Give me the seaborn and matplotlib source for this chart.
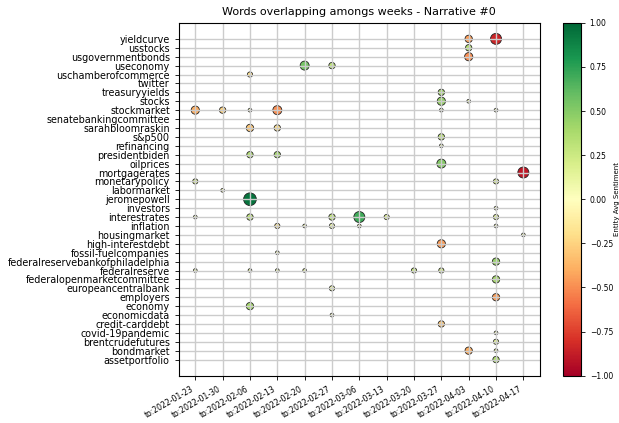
import pandas as pd
import seaborn as sns
import matplotlib.pyplot as plt
import numpy as np

weeks = ["to:2022-01-23", "to:2022-01-30", "to:2022-02-06", "to:2022-02-13",
         "to:2022-02-20", "to:2022-02-27", "to:2022-03-06", "to:2022-03-13",
         "to:2022-03-20", "to:2022-03-27", "to:2022-04-03", "to:2022-04-10",
         "to:2022-04-17"]

# top to bottom as shown on the chart
entities = ["yieldcurve", "usstocks", "usgovernmentbonds", "useconomy",
            "uschamberofcommerce", "twitter", "treasuryyields", "stocks",
            "stockmarket", "senatebankingcommittee", "sarahbloomraskin", "s&p500",
            "refinancing", "presidentbiden", "oilprices", "mortgagerates",
            "monetarypolicy", "labormarket", "jeromepowell", "investors",
            "interestrates", "inflation", "housingmarket", "high-interestdebt",
            "fossil-fuelcompanies", "federalreservebankofphiladelphia",
            "federalreserve", "federalopenmarketcommittee", "europeancentralbank",
            "employers", "economy", "economicdata", "credit-carddebt",
            "covid-19pandemic", "brentcrudefutures", "bondmarket", "assetportfolio"]

pt_entity = ["yieldcurve", "yieldcurve", "usstocks", "usgovernmentbonds",
             "useconomy", "useconomy", "uschamberofcommerce", "treasuryyields",
             "stocks", "stocks",
             "stockmarket", "stockmarket", "stockmarket", "stockmarket", "stockmarket", "stockmarket",
             "sarahbloomraskin", "sarahbloomraskin", "s&p500", "refinancing",
             "presidentbiden", "presidentbiden", "oilprices", "mortgagerates",
             "monetarypolicy", "monetarypolicy", "labormarket", "jeromepowell", "investors",
             "interestrates", "interestrates", "interestrates", "interestrates", "interestrates", "interestrates",
             "inflation", "inflation", "inflation", "inflation", "inflation",
             "housingmarket", "high-interestdebt", "fossil-fuelcompanies",
             "federalreservebankofphiladelphia",
             "federalreserve", "federalreserve", "federalreserve", "federalreserve", "federalreserve", "federalreserve",
             "federalopenmarketcommittee", "europeancentralbank", "employers", "economy",
             "economicdata", "credit-carddebt", "covid-19pandemic", "brentcrudefutures",
             "bondmarket", "bondmarket", "assetportfolio"]
pt_week = ["to:2022-04-03", "to:2022-04-10", "to:2022-04-03", "to:2022-04-03",
           "to:2022-02-20", "to:2022-02-27", "to:2022-02-06", "to:2022-03-27",
           "to:2022-03-27", "to:2022-04-03",
           "to:2022-01-23", "to:2022-01-30", "to:2022-02-06", "to:2022-02-13", "to:2022-03-27", "to:2022-04-10",
           "to:2022-02-06", "to:2022-02-13", "to:2022-03-27", "to:2022-03-27",
           "to:2022-02-06", "to:2022-02-13", "to:2022-03-27", "to:2022-04-17",
           "to:2022-01-23", "to:2022-04-10", "to:2022-01-30", "to:2022-02-06", "to:2022-04-10",
           "to:2022-01-23", "to:2022-02-06", "to:2022-02-27", "to:2022-03-06", "to:2022-03-13", "to:2022-04-10",
           "to:2022-02-13", "to:2022-02-20", "to:2022-02-27", "to:2022-03-06", "to:2022-04-10",
           "to:2022-04-17", "to:2022-03-27", "to:2022-02-13",
           "to:2022-04-10",
           "to:2022-01-23", "to:2022-02-06", "to:2022-02-13", "to:2022-02-20", "to:2022-03-20", "to:2022-03-27",
           "to:2022-04-10", "to:2022-02-27", "to:2022-04-10", "to:2022-02-06",
           "to:2022-02-27", "to:2022-03-27", "to:2022-04-10", "to:2022-04-10",
           "to:2022-04-03", "to:2022-04-10", "to:2022-04-10"]
pt_sentiment = [-0.45, -0.85, 0.35, -0.5,
                0.55, 0.3, -0.2, 0.4,
                0.45, 0.1,
                -0.4, -0.25, 0.05, -0.5, 0.05, 0.05,
                -0.3, -0.2, 0.3, 0.1,
                0.35, 0.4, 0.5, -0.9,
                0.2, 0.2, 0.05, 0.95, 0.05,
                0.1, 0.3, 0.3, 0.7, 0.15, 0.15,
                -0.15, 0.05, 0.1, 0.05, 0.05,
                0.1, -0.45, 0.05,
                0.45,
                0.1, 0.1, 0.1, 0.1, 0.25, 0.2,
                0.4, 0.1, -0.45, 0.4,
                0.05, -0.3, 0.05, 0.15,
                -0.4, 0.1, 0.35]
pt_count = [4, 9, 3, 5,
            6, 3, 2, 3,
            5, 1,
            5, 3, 1, 6, 1, 1,
            4, 3, 3, 1,
            3, 3, 6, 9,
            2, 2, 1, 12, 1,
            1, 3, 3, 9, 2, 2,
            2, 1, 2, 1, 1,
            1, 5, 1,
            4,
            1, 1, 1, 1, 2, 2,
            4, 2, 4, 4,
            1, 3, 1, 2,
            4, 1, 3]

df = pd.DataFrame({"entity": pt_entity, "week": pt_week,
                   "sentiment": pt_sentiment, "count": pt_count})
# bottom row = last entity
df["y"] = df["entity"].map({e: len(entities) - 1 - i for i, e in enumerate(entities)})
df["x"] = df["week"].map({w: i for i, w in enumerate(weeks)})

fig = plt.figure(figsize=(6.19, 4.23), dpi=100)
ax = fig.add_axes([0.289, 0.112, 0.583, 0.834])
cax = fig.add_axes([0.909, 0.112, 0.029, 0.834])

ax.grid(True, color="#cccccc", linewidth=1)
sns.scatterplot(data=df, x="x", y="y", hue="sentiment", size="count",
                palette="RdYlGn", hue_norm=(-1, 1), sizes=(7, 84), size_norm=(1, 12),
                edgecolor="#222222", linewidth=0.6, legend=False, ax=ax, zorder=1)

ax.set_xticks(range(len(weeks)))
ax.set_xticklabels(weeks, rotation=30, ha="right", fontsize=5.6)
ax.set_yticks(range(len(entities)))
ax.set_yticklabels(entities[::-1], fontsize=6.9)
ax.tick_params(length=3, width=0.6)
ax.set_xlim(-0.6, len(weeks) - 0.4)
ax.set_xlabel("")
ax.set_ylabel("")
ax.set_title("Words overlapping amongs weeks - Narrative #0", fontsize=8)

sm = plt.cm.ScalarMappable(cmap="RdYlGn", norm=plt.Normalize(-1, 1))
cb = fig.colorbar(sm, cax=cax, ticks=np.arange(-1, 1.01, 0.25))
cb.ax.tick_params(labelsize=5.5, length=3, width=0.6)
cb.set_label("Entity Avg Sentiment", fontsize=5, labelpad=1)

fig.savefig("out.png", dpi=100)
